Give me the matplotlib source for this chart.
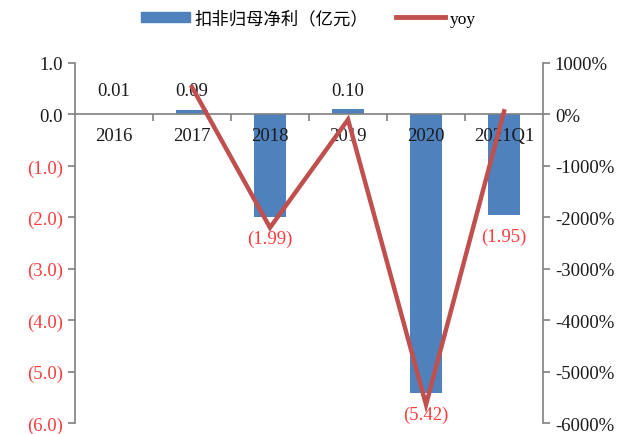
import matplotlib.pyplot as plt
import numpy as np
from matplotlib.ticker import FuncFormatter

plt.rcParams['font.family'] = ['Liberation Serif', 'Noto Sans CJK SC']

# data
cats = ['2016', '2017', '2018', '2019', '2020', '2021Q1']
profit = [0.01, 0.09, -1.99, 0.10, -5.42, -1.95]
yoy_cats = ['2017', '2018', '2019', '2020', '2021Q1']
yoy = [530, -2200, -100, -5640, 60]

blue = '#4F81BD'
red = '#C0504D'
grey = '#808080'
lab_red = '#FF3B3B'
txt = '#1a1a1a'
fs = 13.5

fig = plt.figure(figsize=(6.3, 4.35), dpi=100)
ax = fig.add_axes([0.119, 0.025, 0.743, 0.828])
ax2 = ax.twinx()

x = np.arange(len(cats))
ax.bar(x, profit, width=0.4, color=blue, zorder=2)
ax.set_xlim(-0.5, len(cats) - 0.5)
ax.set_ylim(-6.0, 1.0)
ax.set_yticks(np.arange(-6, 1.01, 1))


def lfmt(v, pos):
    if v < 0:
        return '(%.1f)' % abs(v)
    return '%.1f' % v


ax.yaxis.set_major_formatter(FuncFormatter(lfmt))

ax.spines['top'].set_visible(False)
ax.spines['right'].set_visible(False)
ax.spines['left'].set_color(grey)
ax.spines['bottom'].set_color(grey)
ax.spines['bottom'].set_position(('data', 0))
ax.spines['left'].set_linewidth(1.2)
ax.spines['bottom'].set_linewidth(1.2)
ax.tick_params(axis='y', colors=grey, labelsize=fs, length=5, width=1.2)
for t, v in zip(ax.get_yticklabels(), ax.get_yticks()):
    t.set_color(lab_red if v < 0 else txt)

ax.set_xticks(x)
ax.set_xticklabels([])
ax.tick_params(axis='x', length=0)
ax.set_xticks(np.arange(0.5, len(cats) - 0.5, 1), minor=True)
ax.tick_params(axis='x', which='minor', direction='out', length=5, width=1.2, colors=grey)
for i, c in enumerate(cats):
    ax.text(i, -0.25, c, ha='center', va='top', fontsize=fs, color=txt)

for i, v in enumerate(profit):
    if v >= 0:
        ax.text(i, 0.3, '%.2f' % v, ha='center', va='bottom', fontsize=fs,
                color=txt, zorder=5)
    else:
        ax.text(i, v - 0.25, '(%.2f)' % abs(v), ha='center', va='top',
                fontsize=fs, color=lab_red, zorder=5)

# yoy line
xi = [cats.index(c) for c in yoy_cats]
ax2.plot(xi, yoy, color=red, lw=3.2, solid_joinstyle='miter', zorder=3)
ax2.set_ylim(-6000, 1000)
ax2.set_yticks(np.arange(-6000, 1001, 1000))
ax2.yaxis.set_major_formatter(FuncFormatter(lambda v, p: '%d%%' % v))
ax2.spines['top'].set_visible(False)
ax2.spines['left'].set_visible(False)
ax2.spines['bottom'].set_visible(False)
ax2.spines['right'].set_color(grey)
ax2.spines['right'].set_linewidth(1.2)
ax2.tick_params(axis='y', colors=grey, labelcolor=txt, labelsize=fs,
                length=5, width=1.2)

# legend
h1 = plt.Rectangle((0, 0), 1, 1, color=blue)
h2 = plt.Line2D([], [], color=red, lw=3.5)
fig.legend([h1, h2], ['扣非归母净利（亿元）', 'yoy'], loc='upper center',
           bbox_to_anchor=(0.49, 1.01), ncol=2, frameon=False, fontsize=12.5,
           handlelength=2.8, handleheight=0.5, columnspacing=1.6,
           handletextpad=0.3)

fig.savefig('out.png', dpi=100)
